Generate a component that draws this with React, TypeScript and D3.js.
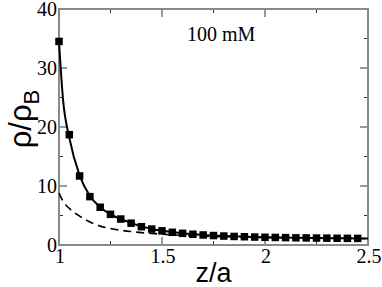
import * as d3 from "d3";
import { useEffect, useRef } from "react";

// positions z/a of the simulation points
const zPoints = [
	1.0, 1.05, 1.1, 1.15, 1.2, 1.25, 1.3, 1.35, 1.4, 1.45, 1.5, 1.55, 1.6, 1.65,
	1.7, 1.75, 1.8, 1.85, 1.9, 1.95, 2.0, 2.05, 2.1, 2.15, 2.2, 2.25, 2.3, 2.35,
	2.4, 2.45,
];
const simValues = [
	34.5, 18.7, 11.7, 8.2, 6.4, 5.2, 4.4, 3.7, 3.1, 2.7, 2.4, 2.15, 1.98, 1.82,
	1.7, 1.6, 1.52, 1.45, 1.4, 1.35, 1.31, 1.28, 1.25, 1.22, 1.2, 1.18, 1.16,
	1.14, 1.13, 1.12,
];

// theory curves
const zCurve = [
	1.0, 1.02, 1.05, 1.1, 1.15, 1.2, 1.25, 1.3, 1.35, 1.4, 1.45, 1.5, 1.6, 1.7,
	1.8, 1.9, 2.0, 2.1, 2.2, 2.3, 2.4, 2.5,
];
const solidValues = [
	34.5, 24.5, 18.2, 11.8, 8.3, 6.4, 5.2, 4.4, 3.75, 3.15, 2.72, 2.42, 1.98,
	1.7, 1.52, 1.4, 1.31, 1.25, 1.2, 1.16, 1.13, 1.11,
];
const dashedValues = [
	8.8, 7.4, 6.2, 4.9, 3.9, 3.2, 2.8, 2.5, 2.28, 2.1, 1.95, 1.82, 1.62, 1.48,
	1.4, 1.34, 1.28, 1.23, 1.19, 1.15, 1.12, 1.1,
];

const xTicks = [1, 1.5, 2, 2.5];
const yTicks = [0, 10, 20, 30, 40];
const xMinor = [1.25, 1.75, 2.25];
const yMinor = [5, 15, 25, 35];

export default function App() {
	const ref = useRef<SVGSVGElement | null>(null);

	useEffect(() => {
		if (!ref.current) return;
		const svg = d3.select(ref.current);
		svg.selectAll("*").remove();

		const left = 59;
		const right = 368;
		const top = 9;
		const bottom = 245;

		const x = d3.scaleLinear().domain([1, 2.5]).range([left, right]);
		const y = d3.scaleLinear().domain([0, 40]).range([bottom, top]);

		const frame = "#8a8a8a";
		const tickCol = "#333";

		// ticks (inside, on all four sides)
		const g = svg.append("g");
		const majorLen = 8;
		const minorLen = 4;
		xTicks.forEach((t) => {
			g.append("line").attr("x1", x(t)).attr("x2", x(t)).attr("y1", bottom).attr("y2", bottom - majorLen).attr("stroke", tickCol);
			g.append("line").attr("x1", x(t)).attr("x2", x(t)).attr("y1", top).attr("y2", top + majorLen).attr("stroke", tickCol);
		});
		xMinor.forEach((t) => {
			g.append("line").attr("x1", x(t)).attr("x2", x(t)).attr("y1", bottom).attr("y2", bottom - minorLen).attr("stroke", tickCol);
			g.append("line").attr("x1", x(t)).attr("x2", x(t)).attr("y1", top).attr("y2", top + minorLen).attr("stroke", tickCol);
		});
		yTicks.forEach((t) => {
			g.append("line").attr("x1", left).attr("x2", left + majorLen).attr("y1", y(t)).attr("y2", y(t)).attr("stroke", tickCol);
			g.append("line").attr("x1", right).attr("x2", right - majorLen).attr("y1", y(t)).attr("y2", y(t)).attr("stroke", tickCol);
		});
		yMinor.forEach((t) => {
			g.append("line").attr("x1", left).attr("x2", left + minorLen).attr("y1", y(t)).attr("y2", y(t)).attr("stroke", tickCol);
			g.append("line").attr("x1", right).attr("x2", right - minorLen).attr("y1", y(t)).attr("y2", y(t)).attr("stroke", tickCol);
		});

		// frame
		svg
			.append("rect")
			.attr("x", left)
			.attr("y", top)
			.attr("width", right - left)
			.attr("height", bottom - top)
			.attr("fill", "none")
			.attr("stroke", frame)
			.attr("stroke-width", 2);

		// tick labels
		const serif = "'Liberation Serif', 'DejaVu Serif', serif";
		xTicks.forEach((t) => {
			svg
				.append("text")
				.attr("x", x(t) + 1)
				.attr("y", 263)
				.attr("text-anchor", "middle")
				.style("font-family", serif)
				.style("font-size", "20px")
				.text(String(t));
		});
		yTicks.forEach((t) => {
			svg
				.append("text")
				.attr("x", left - 2)
				.attr("y", y(t) + 7)
				.attr("text-anchor", "end")
				.style("font-family", serif)
				.style("font-size", "20px")
				.text(String(t));
		});

		// curves
		const line = d3
			.line<number>()
			.x((_, i) => x(zCurve[i]))
			.y((d) => y(d))
			.curve(d3.curveMonotoneX);

		svg
			.append("path")
			.attr("d", line(dashedValues))
			.attr("fill", "none")
			.attr("stroke", "#000")
			.attr("stroke-width", 1.6)
			.attr("stroke-dasharray", "8,5");

		svg
			.append("path")
			.attr("d", line(solidValues))
			.attr("fill", "none")
			.attr("stroke", "#000")
			.attr("stroke-width", 2);

		const s = 7.5;
		svg
			.append("g")
			.selectAll("rect")
			.data(simValues)
			.enter()
			.append("rect")
			.attr("x", (_, i) => x(zPoints[i]) - s / 2)
			.attr("y", (d) => y(d) - s / 2)
			.attr("width", s)
			.attr("height", s)
			.attr("fill", "#000");

		// annotation
		svg
			.append("text")
			.attr("x", 187)
			.attr("y", 41)
			.style("font-family", serif)
			.style("font-size", "20px")
			.text("100 mM");

		// axis titles
		const sans = "'Liberation Sans', Arial, sans-serif";
		svg
			.append("text")
			.attr("x", x(1.75))
			.attr("y", 282)
			.attr("text-anchor", "middle")
			.style("font-family", sans)
			.style("font-size", "27px")
			.text("z/a");

		const yl = svg
			.append("text")
			.attr("transform", "translate(31,119) rotate(-90)")
			.attr("text-anchor", "middle")
			.style("font-family", sans)
			.style("font-size", "31px");
		yl.append("tspan").text("ρ/ρ");
		yl.append("tspan").attr("dy", 8).style("font-size", "22px").text("B");
	}, []);

	return (
		<svg
			ref={ref}
			width={382}
			height={287}
			style={{ position: "absolute", left: 0, top: 0, background: "#fff" }}
		/>
	);
}
